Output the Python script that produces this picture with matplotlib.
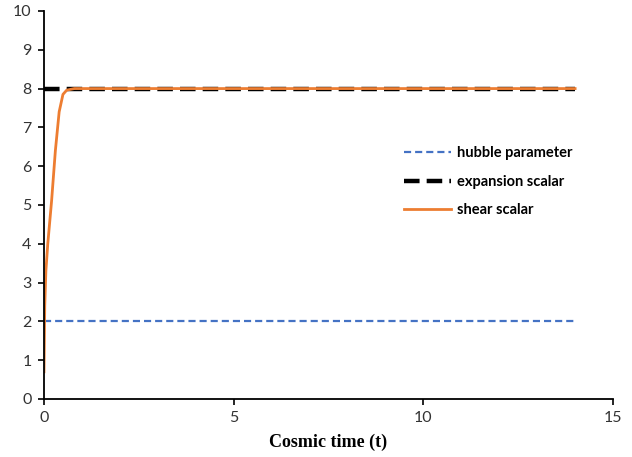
import matplotlib
matplotlib.use("Agg")
import matplotlib.pyplot as plt

# Cosmic time samples and model quantities
t_const = [0.0, 14.0]
hubble = [2.0, 2.0]
expansion = [8.0, 8.0]

t_shear = [0.0, 0.02, 0.05, 0.1, 0.2, 0.3, 0.4, 0.5, 0.6, 0.8, 1.0, 14.0]
shear = [0.7, 2.4, 3.3, 4.0, 5.1, 6.4, 7.4, 7.85, 7.96, 8.0, 8.0, 8.0]

x_ticks = [0, 5, 10, 15]
y_ticks = list(range(0, 11))

fig = plt.figure(figsize=(6.32, 4.57), dpi=100)
ax = fig.add_axes([0.0696, 0.127, 0.9004, 0.849])

ax.plot(t_const, hubble, color="#4472C4", lw=1.6, dashes=(3.2, 1.8),
        label="hubble parameter")
ax.plot(t_const, expansion, color="black", lw=3.2, dashes=(3.5, 1.6),
        label="expansion scalar")
ax.plot(t_shear, shear, color="#ED7D31", lw=2.0, label="shear scalar")

ax.set_xlim(0, 15)
ax.set_ylim(0, 10)
ax.set_xticks(x_ticks)
ax.set_yticks(y_ticks)
for s in ("top", "right"):
    ax.spines[s].set_visible(False)
for s in ("left", "bottom"):
    ax.spines[s].set_linewidth(1.3)
ax.tick_params(direction="out", length=4, width=1.2, labelsize=11.5,
               colors="black", labelcolor="#333333", pad=5)
for lbl in ax.get_xticklabels() + ax.get_yticklabels():
    lbl.set_family("Lato")

ax.set_xlabel("Cosmic time (t)", family="Liberation Serif", fontweight="bold",
              fontsize=13, labelpad=6)

leg = ax.legend(loc="upper left", bbox_to_anchor=(0.61, 0.685), frameon=False,
                prop={"family": "Lato", "weight": "bold", "size": 10.5},
                handlelength=3.2, handletextpad=0.4, labelspacing=1.0)

fig.savefig("out.png", dpi=100)
